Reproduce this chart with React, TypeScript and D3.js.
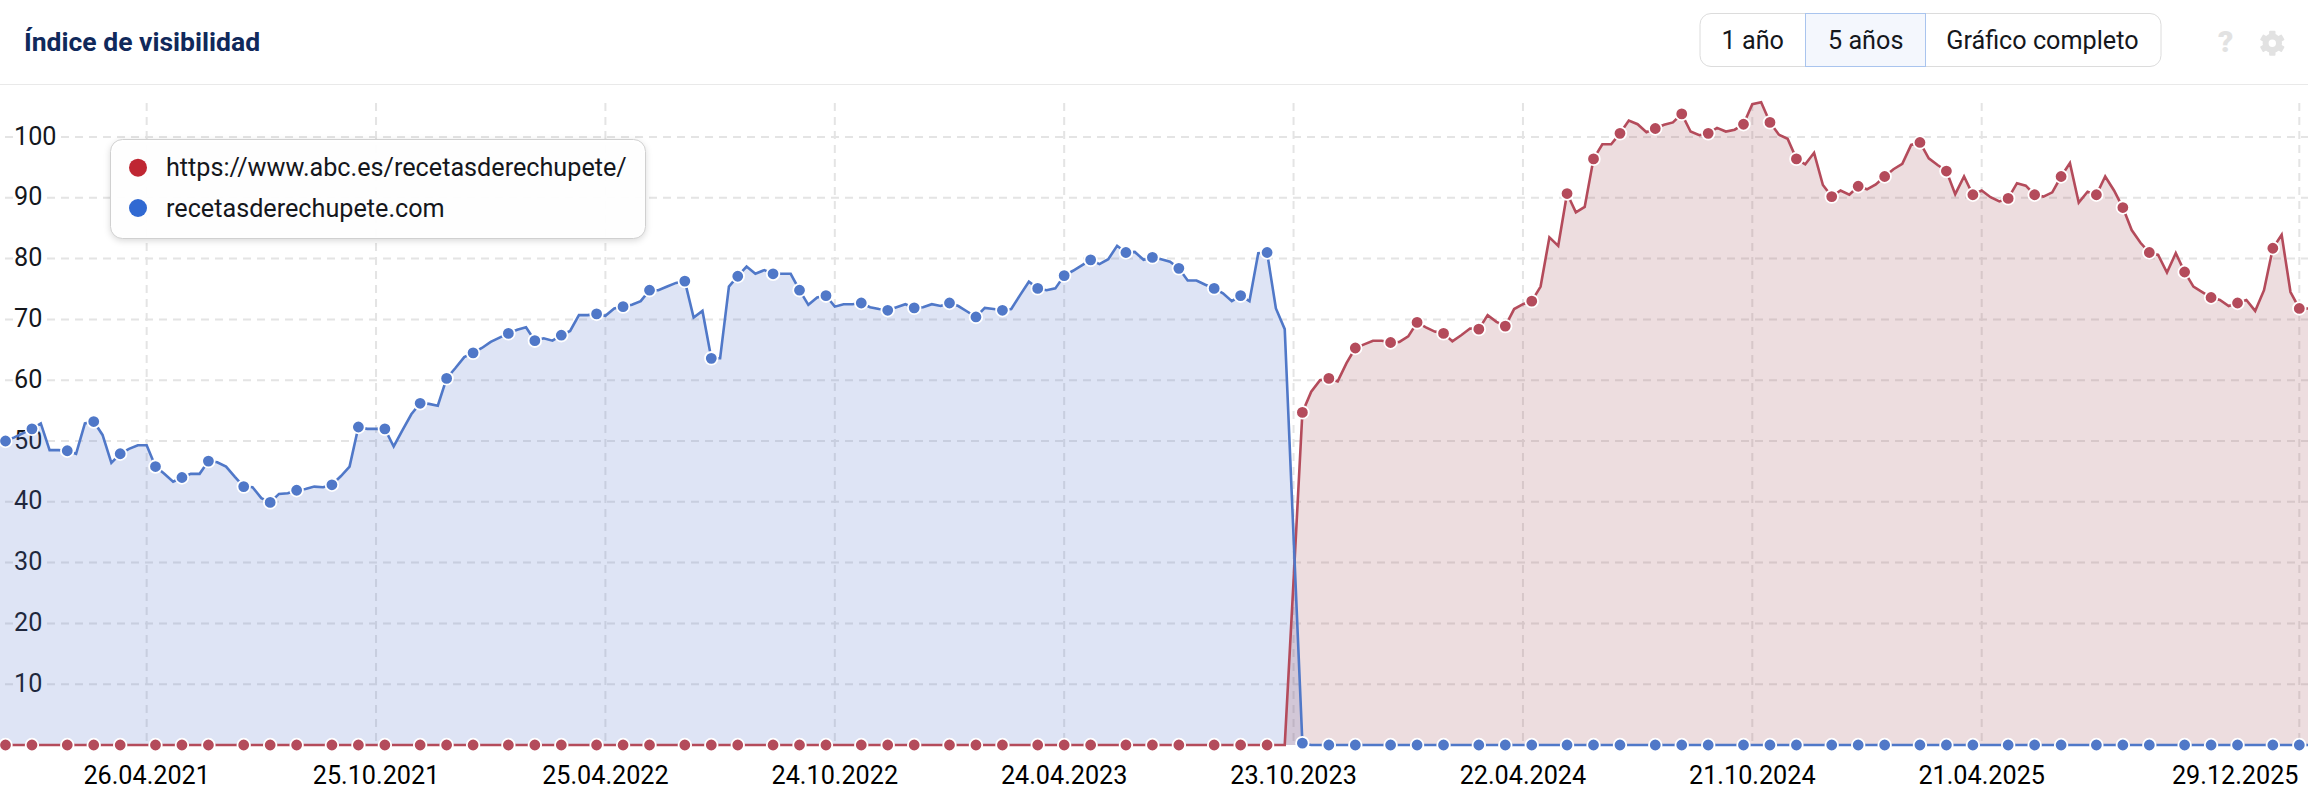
import React from "react";
import * as d3 from "d3";

const WIDTH = 2308;
const HEIGHT = 804;
const FONT = "Roboto, sans-serif";

const blueName = "recetasderechupete.com";
const redName = "https://www.abc.es/recetasderechupete/";
const firstWeek = "28.12.2020";
const anchorFirst = "04.01.2021";
const anchorLast = "29.12.2025";

const blueValues = [
  50.0,
  50.0, 50.6, 51.3, 52.0, 52.9, 48.5, 48.5, 48.4, 47.9, 52.9,
  53.2, 51.0, 46.4, 47.9, 48.7, 49.3, 49.3, 45.8, 44.6, 43.3,
  44.0, 44.6, 44.6, 46.7, 46.5, 45.8, 44.1, 42.5, 42.4, 40.6,
  39.9, 41.3, 41.4, 41.9, 42.1, 42.5, 42.4, 42.8, 44.2, 45.8,
  52.3, 52.0, 52.0, 52.0, 49.1, 51.8, 54.4, 56.2, 56.1, 55.8,
  60.3, 62.0, 63.8, 64.5, 65.3, 66.3, 67.0, 67.7, 68.3, 68.7,
  66.5, 66.9, 66.5, 67.4, 68.1, 70.7, 70.7, 70.9, 70.6, 71.8,
  72.1, 72.4, 73.0, 74.8, 74.8, 75.4, 76.0, 76.3, 70.3, 71.4,
  63.6, 63.6, 75.4, 77.1, 78.7, 77.5, 78.1, 77.5, 77.5, 77.5,
  74.8, 72.4, 73.6, 73.9, 72.1, 72.5, 72.5, 72.7, 72.0, 71.7,
  71.5, 72.0, 72.5, 71.9, 72.0, 72.5, 72.2, 72.7, 72.2, 71.3,
  70.4, 71.9, 71.7, 71.5, 71.7, 74.0, 76.2, 75.1, 74.8, 75.1,
  77.2, 78.0, 78.9, 79.8, 79.1, 79.9, 82.1, 81.0, 81.1, 79.8,
  80.2, 79.9, 79.5, 78.4, 76.4, 76.4, 75.7, 75.1, 74.3, 73.0,
  73.9, 73.0, 80.9, 81.0, 71.8, 68.4, 34.3, 0.3, 0, 0,
  0, 0, 0, 0, 0, 0, 0, 0, 0, 0,
  0, 0, 0, 0, 0, 0, 0, 0, 0, 0,
  0, 0, 0, 0, 0, 0, 0, 0, 0, 0,
  0, 0, 0, 0, 0, 0, 0, 0, 0, 0,
  0, 0, 0, 0, 0, 0, 0, 0, 0, 0,
  0, 0, 0, 0, 0, 0, 0, 0, 0, 0,
  0, 0, 0, 0, 0, 0, 0, 0, 0, 0,
  0, 0, 0, 0, 0, 0, 0, 0, 0, 0,
  0, 0, 0, 0, 0, 0, 0, 0, 0, 0,
  0, 0, 0, 0, 0, 0, 0, 0, 0, 0,
  0, 0, 0, 0, 0, 0, 0, 0, 0, 0,
  0, 0,
];

const redValues = [
  0,
  0, 0, 0, 0, 0, 0, 0, 0, 0, 0,
  0, 0, 0, 0, 0, 0, 0, 0, 0, 0,
  0, 0, 0, 0, 0, 0, 0, 0, 0, 0,
  0, 0, 0, 0, 0, 0, 0, 0, 0, 0,
  0, 0, 0, 0, 0, 0, 0, 0, 0, 0,
  0, 0, 0, 0, 0, 0, 0, 0, 0, 0,
  0, 0, 0, 0, 0, 0, 0, 0, 0, 0,
  0, 0, 0, 0, 0, 0, 0, 0, 0, 0,
  0, 0, 0, 0, 0, 0, 0, 0, 0, 0,
  0, 0, 0, 0, 0, 0, 0, 0, 0, 0,
  0, 0, 0, 0, 0, 0, 0, 0, 0, 0,
  0, 0, 0, 0, 0, 0, 0, 0, 0, 0,
  0, 0, 0, 0, 0, 0, 0, 0, 0, 0,
  0, 0, 0, 0, 0, 0, 0, 0, 0, 0,
  0, 0, 0, 0, 0, 0, 27.0, 54.7, 58.1, 60.0,
  60.3, 59.8, 62.8, 65.3, 65.9, 66.5, 66.5, 66.2, 66.3, 67.2,
  69.5, 68.7, 68.0, 67.7, 66.4, 67.4, 68.5, 68.4, 70.7, 69.6,
  68.9, 71.7, 72.5, 73.0, 75.4, 83.5, 82.1, 90.7, 87.6, 88.5,
  96.4, 98.8, 98.8, 100.6, 102.7, 102.1, 100.8, 101.4, 102.0, 102.4,
  103.8, 100.9, 100.3, 100.6, 101.5, 100.9, 101.2, 102.1, 105.4, 105.7,
  102.4, 100.4, 99.7, 96.4, 95.5, 97.4, 92.1, 90.2, 91.2, 90.5,
  91.9, 91.4, 92.2, 93.5, 94.7, 95.6, 98.7, 99.1, 96.5, 95.4,
  94.4, 90.6, 93.5, 90.5, 91.2, 90.1, 89.4, 89.9, 92.4, 92.0,
  90.5, 90.2, 90.9, 93.5, 95.7, 89.2, 91.0, 90.5, 93.5, 91.2,
  88.4, 84.7, 82.6, 81.0, 80.6, 77.7, 80.9, 77.8, 75.4, 74.5,
  73.6, 73.2, 72.2, 72.7, 73.2, 71.4, 74.8, 81.7, 83.9, 74.5,
  71.8, 71.8,
];

const xTickLabels = [
  "26.04.2021", "25.10.2021", "25.04.2022", "24.10.2022", "24.04.2023",
  "23.10.2023", "22.04.2024", "21.10.2024", "21.04.2025", "29.12.2025",
];
const yTicks = [100, 90, 80, 70, 60, 50, 40, 30, 20, 10];

const BLUE_LINE = "#5078c8";
const RED_LINE = "#b44b5b";
const BLUE_FILL = "#506ecb";
const RED_FILL = "#a04a55";

const parse = d3.utcParse("%d.%m.%Y");
const dates = blueValues.map((_, k) => d3.utcDay.offset(parse(firstWeek)!, 7 * k));

const x = d3.scaleUtc().domain([parse(anchorFirst)!, parse(anchorLast)!]).range([5.5, 2299.3]);
const y = d3.scaleLinear().domain([0, 100]).range([745, 137]);

const line = d3.line<number>().x((_, k) => x(dates[k])).y((v) => y(v));
const area = d3.area<number>().x((_, k) => x(dates[k])).y0(y(0)).y1((v) => y(v));

// Markers fall on every third/fourth weekly sample, as in the reference.
const hasMarker = (k: number) => [1, 4, 8].includes(k % 10);

function Series({ values, color }: { values: number[]; color: string }) {
  return (
    <g>
      <path d={line(values)!} fill="none" stroke={color} strokeWidth={2.6} strokeLinejoin="miter" />
      {values.map((v, k) =>
        hasMarker(k) ? (
          <circle key={k} cx={x(dates[k])} cy={y(v)} r={6.3} fill={color} stroke="#fff" strokeWidth={1.8} />
        ) : null
      )}
    </g>
  );
}

function Gear({ cx, cy }: { cx: number; cy: number }) {
  const angles = d3.range(0, 360, 60);
  return (
    <g transform={`translate(${cx},${cy})`} fill="#e2e2e2">
      {angles.map((a) => (
        <rect key={a} x={-3.2} y={-12.5} width={6.4} height={6} rx={1} transform={`rotate(${a})`} />
      ))}
      <circle r={6.7} fill="none" stroke="#e2e2e2" strokeWidth={6} />
    </g>
  );
}

export default function App() {
  return (
    <svg
      width={WIDTH}
      height={HEIGHT}
      viewBox={`0 0 ${WIDTH} ${HEIGHT}`}
      style={{ position: "fixed", left: 0, top: 0, display: "block", background: "#fff", fontFamily: FONT }}
    >
      {/* header */}
      <text x={24} y={51} fontSize={26.5} fontWeight={700} fill="#10295b">Índice de visibilidad</text>
      <line x1={0} x2={WIDTH} y1={84.5} y2={84.5} stroke="#e9e9e9" strokeWidth={1} />

      <rect x={1700} y={13.5} width={461} height={53} rx={11} fill="#fff" stroke="#dcdcdc" strokeWidth={1} />
      <rect x={1805.5} y={13.5} width={120} height={53} fill="#f4f7fd" stroke="#a9c4ee" strokeWidth={1} />
      <g fontSize={25.2} fill="#15171c" textAnchor="middle">
        <text x={1752.8} y={48.5}>1 año</text>
        <text x={1865.7} y={48.5}>5 años</text>
        <text x={2042.4} y={48.5}>Gráfico completo</text>
      </g>
      <text x={2225.7} y={52} fontSize={30} fontWeight={900} fill="#e2e2e2" textAnchor="middle">?</text>
      <Gear cx={2272.3} cy={43.3} />

      {/* grid */}
      <g stroke="#e4e4e4" strokeWidth={2} strokeDasharray="8,6" fill="none">
        {xTickLabels.map((t) => (
          <line key={t} x1={x(parse(t)!)} x2={x(parse(t)!)} y1={103} y2={745} />
        ))}
        {yTicks.map((t) => (
          <path key={t} d={`M5 ${y(t)}L13 ${y(t)}M${t === 100 ? 61 : 47} ${y(t)}L${WIDTH} ${y(t)}`} />
        ))}
      </g>

      {/* y axis labels */}
      <g fontSize={25.2} fill="#15171c">
        {yTicks.map((t) => (
          <text key={t} x={14} y={y(t) + 7.5}>{t}</text>
        ))}
      </g>

      {/* areas */}
      <path d={area(blueValues)!} fill={BLUE_FILL} fillOpacity={0.19} />
      <path d={area(redValues)!} fill={RED_FILL} fillOpacity={0.19} />

      <Series values={redValues} color={RED_LINE} />
      <Series values={blueValues} color={BLUE_LINE} />

      {/* x axis labels */}
      <g fontSize={25.2} fill="#000">
        {xTickLabels.map((t, k) =>
          k === xTickLabels.length - 1 ? (
            <text key={t} x={2298.5} y={784} textAnchor="end">{t}</text>
          ) : (
            <text key={t} x={x(parse(t)!)} y={784} textAnchor="middle">{t}</text>
          )
        )}
      </g>

      {/* legend */}
      <rect
        x={110.5}
        y={139.5}
        width={535}
        height={99}
        rx={12}
        fill="rgba(255,255,255,0.96)"
        stroke="#d0d0d0"
        strokeWidth={1}
        style={{ filter: "drop-shadow(0px 2px 3px rgba(0,0,0,0.15))" }}
      />
      <circle cx={138} cy={167.7} r={9} fill="#bf2632" />
      <circle cx={138} cy={208} r={9} fill="#3069d2" />
      <g fontSize={25.2} fill="#15171c">
        <text x={166} y={176}>{redName}</text>
        <text x={166} y={216.5}>{blueName}</text>
      </g>
    </svg>
  );
}
